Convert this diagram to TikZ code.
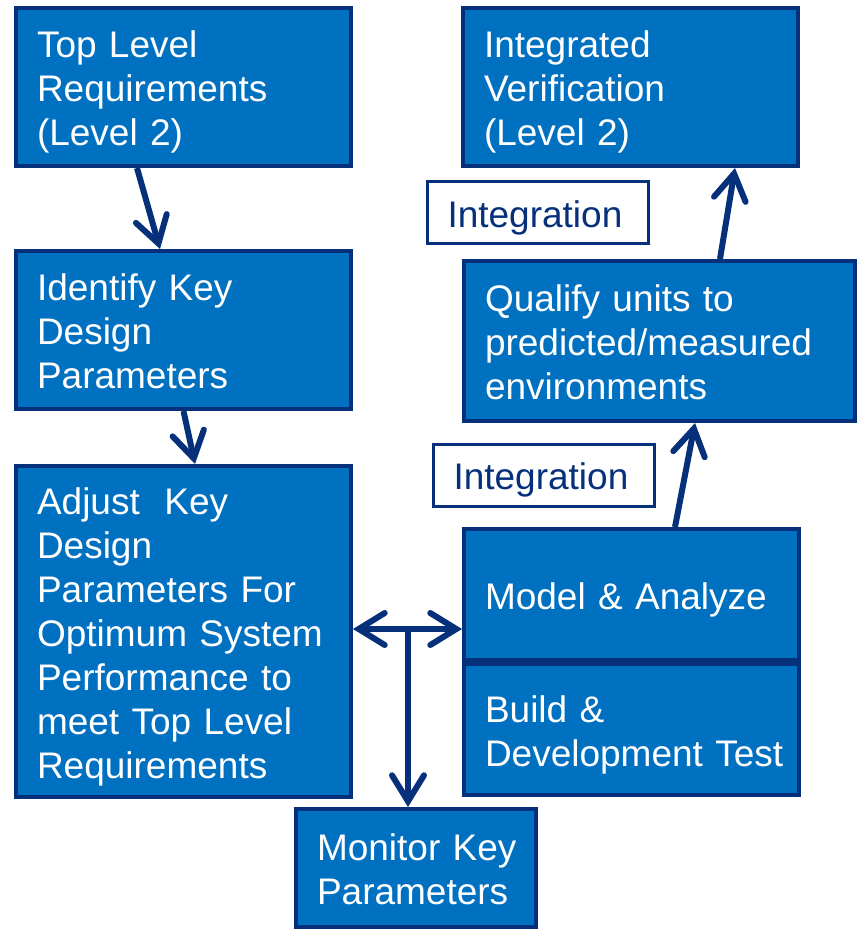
\documentclass[tikz,border=0pt]{standalone}
\usepackage{fontspec}
\setmainfont{Liberation Sans}
\usepackage{tikz}
\usetikzlibrary{arrows.meta,calc}

\definecolor{boxblue}{HTML}{0070C0}
\definecolor{navy}{HTML}{06307A}

\begin{document}
\begin{tikzpicture}
	[
	 x = 1pt, y = -1pt,
	 every node/.style = {shape=rectangle,
		                  align=left,
		                  font=\fontsize{37}{44}\selectfont,
		                  inner xsep = 21pt,
		                  inner ysep = 0pt,
		                  execute at begin node = \rule{0pt}{1em},
		                  execute at end node   = \rule[-0.212em]{0pt}{0pt}
	                     },
	 BB/.style = {draw = navy, line width = 4pt, fill = boxblue, text = white},
	 LB/.style = {draw = navy, line width = 3pt, fill = white, text = navy,
	              inner xsep = 20pt, text width = 181pt, minimum height = 62pt},
	 W1/.style = {text width = 293pt, minimum height = 158pt},
	 navybarb/.tip = {Straight Barb[length=26pt,width=32pt,line cap=round]},
	 flow/.style = {draw = navy, line width = 6pt, -navybarb}
	]

	\newcommand{\TopReq}{Top~Level\\Requirements\\(Level~2)}
	\newcommand{\KeyPar}{Identify~Key\\Design\\Parameters}
	\newcommand{\AdjPar}{Adjust~~Key\\Design\\Parameters~For\\Optimum~System\\Performance~to\\meet~Top~Level\\Requirements}
	\newcommand{\IntVer}{Integrated\\Verification\\(Level~2)}
	\newcommand{\QualUn}{Qualify~units~to\\predicted/measured\\environments}

	\useasboundingbox (0,0) rectangle (858,930);

	% left column
	\node [BB, W1] (top)    at (183.5,87)  {\TopReq};
	\node [BB, W1] (ident)  at (183.5,330) {\KeyPar};
	\node [BB, text width = 293pt, minimum height = 331pt] (adjust) at (183.5,631.5) {\AdjPar};
	\node [BB, text width = 198pt, minimum height = 118pt] (monitor) at (416,868) {Monitor~Key\\Parameters};

	% right column
	\node [BB, W1] (intver) at (630.5,87) {\IntVer};
	\node [BB, text width = 349pt, minimum height = 160pt] (qualify) at (659.5,341) {\QualUn};
	\node [BB, text width = 293pt, minimum height = 131pt] (model) at (631.5,594.5) {Model~\&~Analyze};
	\node [BB, text width = 293pt, minimum height = 131pt] (build) at (631.5,729.5) {Build~\&\\Development~Test};

	\node [LB] (int1) at (538,212.5) {Integration};
	\node [LB] (int2) at (544,475)   {Integration};

	\coordinate (hub) at (408,629);

	\draw [flow] ([xshift=-46.5pt]top.south) -- ([xshift=-23.5pt]ident.north);
	\draw [flow] (ident.south) -- ([xshift=11.5pt]adjust.north);
	\draw [flow, navybarb-navybarb] (adjust.east |- hub) -- (model.west |- hub);
	\draw [flow] (hub) -- (hub |- monitor.north);
	\draw [flow] ([xshift=43.5pt]model.north) -- ([xshift=35.5pt]qualify.south);
	\draw [flow] ([xshift=60.5pt]qualify.north) -- ([xshift=104.5pt]intver.south);
\end{tikzpicture}
\end{document}
